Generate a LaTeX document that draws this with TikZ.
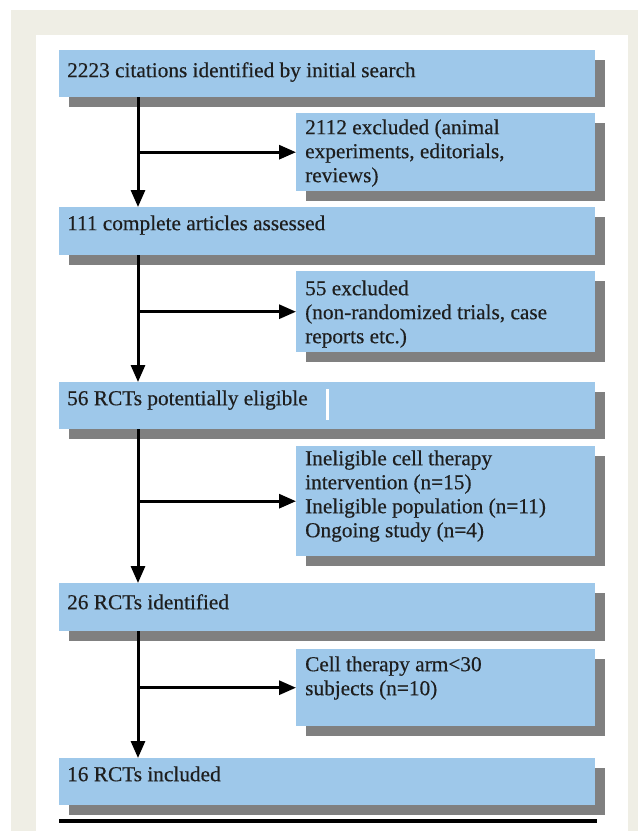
\documentclass[tikz,border=0pt]{standalone}
\usepackage{fontspec}
\setmainfont{Liberation Serif}
\newfontfamily\boxfont{Liberation Serif}[FakeBold=0.4]
\usetikzlibrary{arrows.meta,shadows}
\definecolor{boxblue}{RGB}{158,200,234}
\definecolor{shadowgray}{RGB}{128,128,128}
\definecolor{pagebg}{RGB}{239,238,229}
\definecolor{textdark}{RGB}{30,30,30}
\newcommand\bxt[4]{\parbox[c][#2][t]{#1}{\raggedright\rule{0pt}{#3}#4}}
\begin{document}
\begin{tikzpicture}[x=1pt,y=-1pt,
  flowbox/.style={fill=boxblue, draw=none, inner ysep=0pt, anchor=north west,
    text=textdark, font=\boxfont\fontsize{21.3}{24}\selectfont,
    drop shadow={shadow xshift=10pt, shadow yshift=-10pt, fill=shadowgray, opacity=1}},
  widebox/.style={flowbox, inner xsep=8pt},
  sidebox/.style={flowbox, inner xsep=9pt},
  arr/.style={line width=3pt, -{Triangle[length=17pt,width=14pt]}}]
\useasboundingbox (0,0) rectangle (638,831);
\fill[pagebg] (11,10) rectangle (638,831);
\fill[white] (36,35) rectangle (628,831);
\coordinate (v) at (138,0);
\node[widebox] (b1) at (59,50) {\bxt{520pt}{47pt}{27pt}{2223 citations identified by initial search}};
\node[sidebox] (b2) at (296,113) {\bxt{281pt}{78pt}{21pt}{2112 excluded (animal\\experiments, editorials,\\reviews)}};
\node[widebox] (b3) at (59,207) {\bxt{520pt}{48pt}{23pt}{111 complete articles assessed}};
\node[sidebox] (b4) at (296,271) {\bxt{281pt}{81pt}{24pt}{55 excluded\\(non-randomized trials, case\\reports etc.)}};
\node[widebox] (b5) at (59,382) {\bxt{520pt}{47pt}{23pt}{56 RCTs potentially eligible}};
\node[sidebox] (b6) at (296,446) {\bxt{281pt}{110pt}{19pt}{Ineligible cell therapy\\intervention (n=15)\\Ineligible population (n=11)\\Ongoing study (n=4)}};
\node[widebox] (b7) at (59,583) {\bxt{520pt}{48pt}{26pt}{26 RCTs identified}};
\node[sidebox] (b8) at (296,649) {\bxt{281pt}{77pt}{22pt}{Cell therapy arm<30\\subjects (n=10)}};
\node[widebox] (b9) at (59,758) {\bxt{520pt}{47pt}{23pt}{16 RCTs included}};
\fill[white] (326,389) rectangle (329,420);
\draw[arr] (b1.south -| v) -- (b3.north -| v);
\draw[arr] (b2.west -| v) -- (b2.west);
\draw[arr] (b3.south -| v) -- (b5.north -| v);
\draw[arr] (b4.west -| v) -- (b4.west);
\draw[arr] (b5.south -| v) -- (b7.north -| v);
\draw[arr] (b6.west -| v) -- (b6.west);
\draw[arr] (b7.south -| v) -- (b9.north -| v);
\draw[arr] (b8.west -| v) -- (b8.west);
\fill[black] (59,819) rectangle (597,823);
\end{tikzpicture}
\end{document}
